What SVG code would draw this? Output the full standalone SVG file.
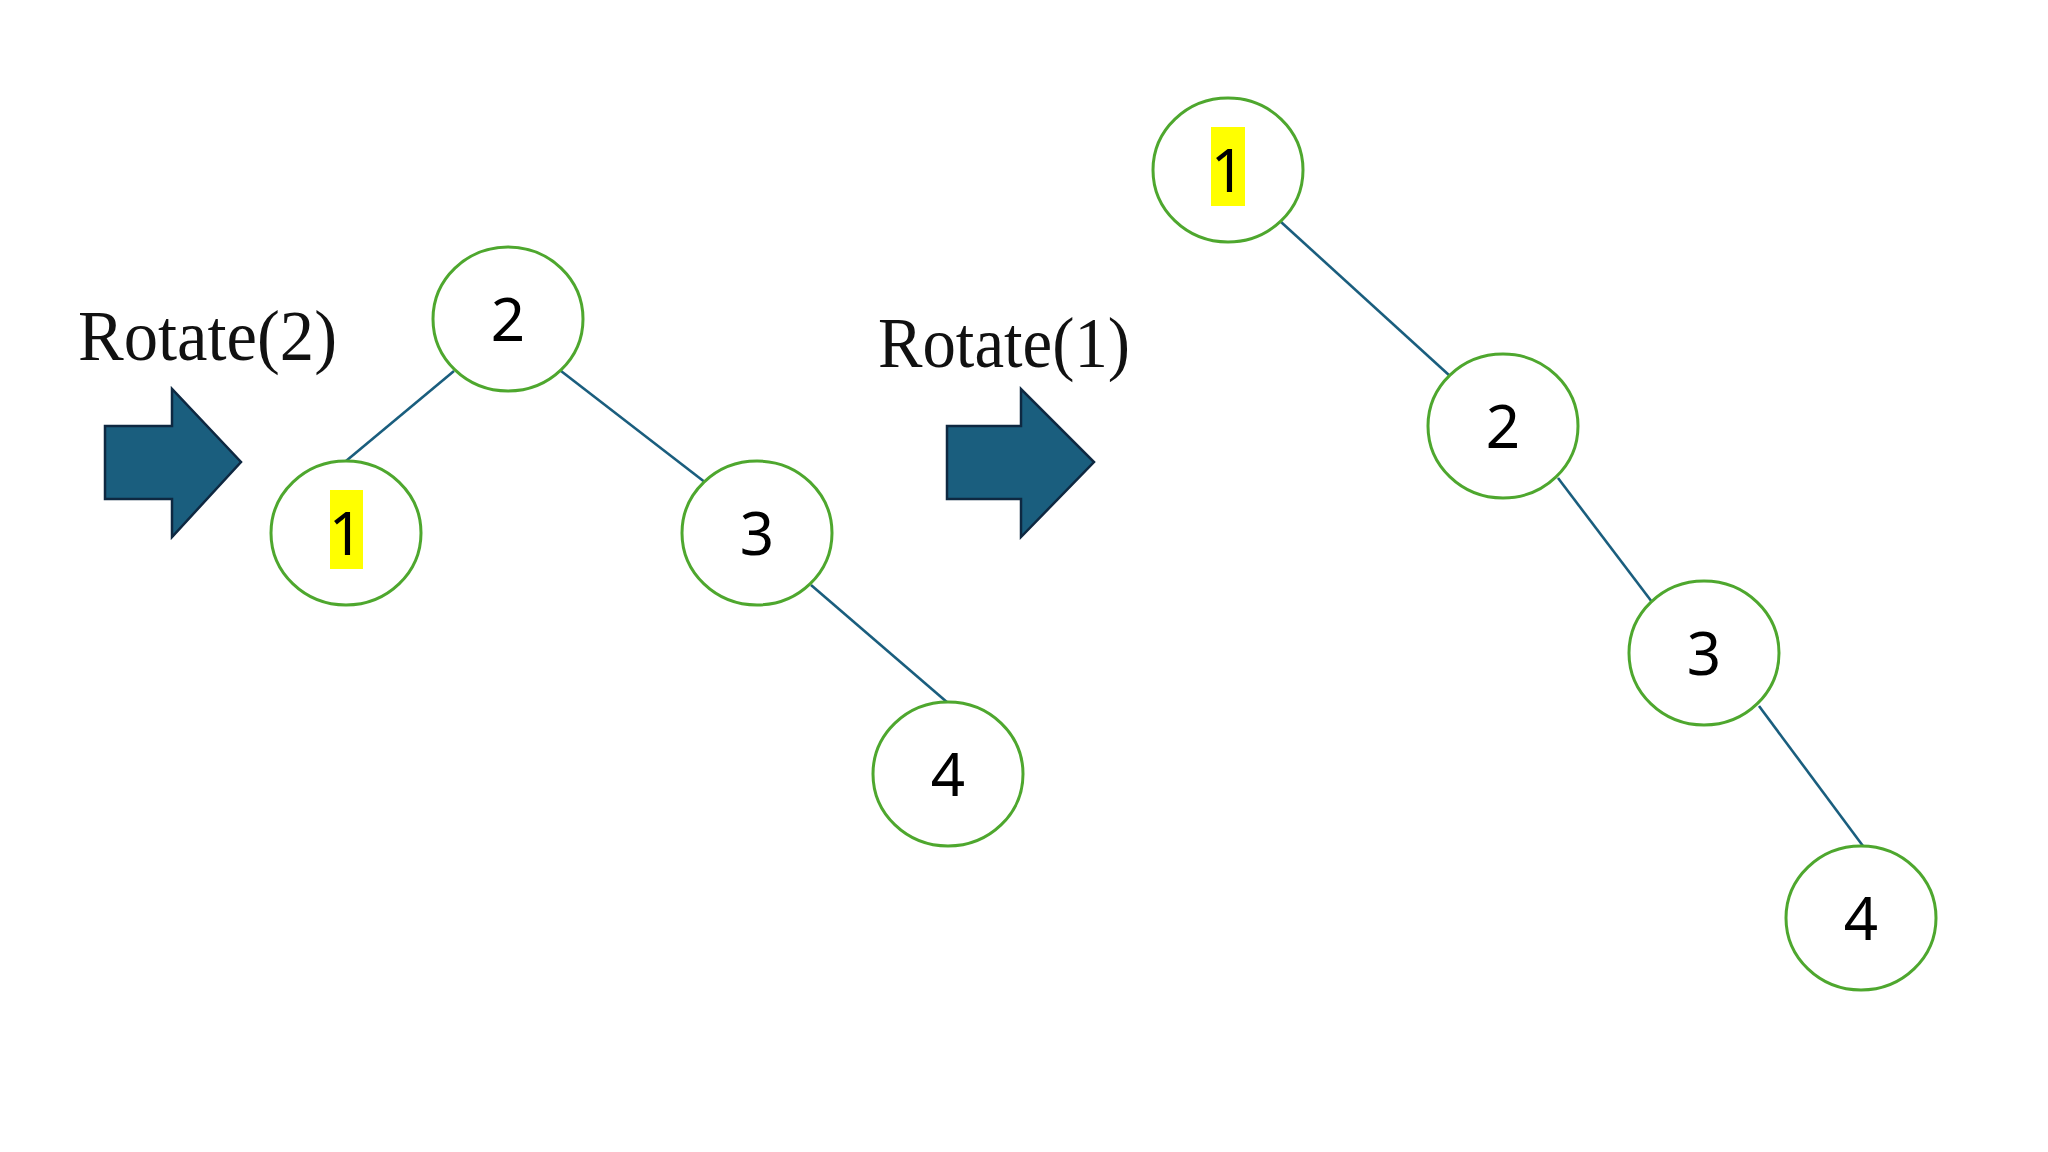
<svg xmlns="http://www.w3.org/2000/svg" width="2048" height="1152" viewBox="0 0 2048 1152">
<style>
.node ellipse{fill:#fff;stroke:#4ea72e;stroke-width:3}
.node text{font-family:"Noto Sans","Open Sans",sans-serif;font-size:60px;fill:#000;text-anchor:middle}
.hl{fill:#ffff00}
.edge{stroke:#1a5e7e;stroke-width:2.6;fill:none}
.arrow{fill:#1a5e7e;stroke:#0e2841;stroke-width:2.5;stroke-linejoin:miter}
.label{font-family:"Liberation Serif","DejaVu Serif",serif;font-size:72px;fill:#111}
</style>
<rect width="2048" height="1152" fill="#fff"/>
<g id="connectors">
<line class="edge" x1="454" y1="371" x2="346" y2="461"/>
<line class="edge" x1="561" y1="371" x2="706" y2="483"/>
<line class="edge" x1="811" y1="585" x2="948" y2="703"/>
<line class="edge" x1="1281" y1="222" x2="1450" y2="376"/>
<line class="edge" x1="1558" y1="478" x2="1652" y2="602"/>
<line class="edge" x1="1759" y1="706" x2="1863" y2="846"/>
</g>
<g id="label-rotate2"><text class="label" x="78" y="360" textLength="259" lengthAdjust="spacingAndGlyphs">Rotate(2)</text></g>
<g id="label-rotate1"><text class="label" x="878" y="367" textLength="252" lengthAdjust="spacingAndGlyphs">Rotate(1)</text></g>
<g id="arrow-left"><polygon class="arrow" points="105,426 172,426 172,389 241,462 172,537 172,499 105,499"/></g>
<g id="arrow-right"><polygon class="arrow" points="947,426 1021,426 1021,389 1094,462 1021,537 1021,499 947,499"/></g>
<g id="left-2" class="node"><ellipse cx="508" cy="319" rx="75" ry="72"/><text x="508" y="341">2</text></g>
<g id="left-1" class="node"><ellipse cx="346" cy="533" rx="75" ry="72"/><rect class="hl" x="330" y="490" width="33" height="79"/><text x="346" y="555">1</text></g>
<g id="left-3" class="node"><ellipse cx="757" cy="533" rx="75" ry="72"/><text x="757" y="555">3</text></g>
<g id="left-4" class="node"><ellipse cx="948" cy="774" rx="75" ry="72"/><text x="948" y="796">4</text></g>
<g id="right-1" class="node"><ellipse cx="1228" cy="170" rx="75" ry="72"/><rect class="hl" x="1211" y="127" width="34" height="79"/><text x="1228" y="192">1</text></g>
<g id="right-2" class="node"><ellipse cx="1503" cy="426" rx="75" ry="72"/><text x="1503" y="448">2</text></g>
<g id="right-3" class="node"><ellipse cx="1704" cy="653" rx="75" ry="72"/><text x="1704" y="675">3</text></g>
<g id="right-4" class="node"><ellipse cx="1861" cy="918" rx="75" ry="72"/><text x="1861" y="940">4</text></g>
</svg>
